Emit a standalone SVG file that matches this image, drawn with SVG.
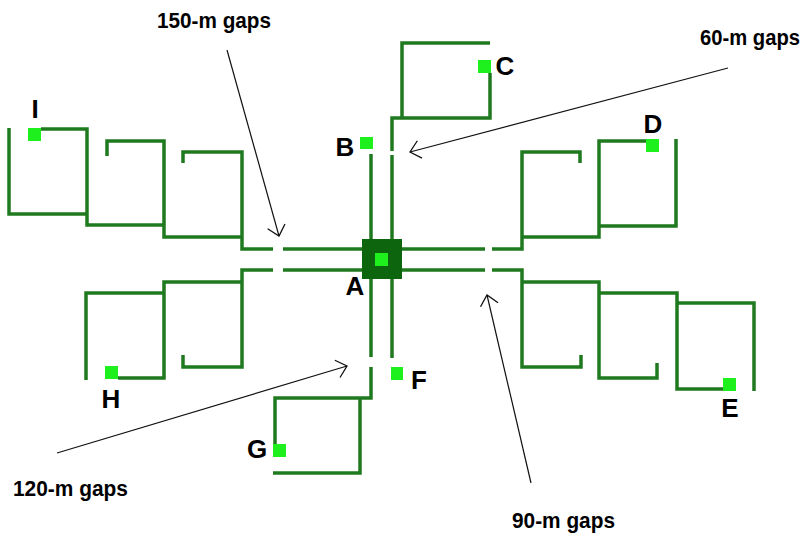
<svg xmlns="http://www.w3.org/2000/svg" width="809" height="539" viewBox="0 0 809 539">
<style>
.net{fill:none;stroke:#1f7a1f;stroke-width:3.5;stroke-linejoin:miter;stroke-linecap:butt}
.pt{fill:#1ef01e}
.lbl{font-family:"Liberation Sans",Arial,sans-serif;font-size:26px;font-weight:bold;fill:#000;text-anchor:middle}
.gap{font-family:"Liberation Sans",Arial,sans-serif;font-size:22px;font-weight:bold;fill:#000}
.arr{fill:none;stroke:#111;stroke-width:1.2}
</style>
<defs>
<marker id="ah" markerUnits="userSpaceOnUse" markerWidth="14" markerHeight="20" viewBox="0 0 12 20" refX="11" refY="10" orient="auto">
<path d="M1,1 L11,10 L1,19" fill="none" stroke="#111" stroke-width="1.3"/>
</marker>
</defs>
<rect width="809" height="539" fill="#fff"/>
<g id="network">
<path class="net" d="M371,239 V154"/>
<path class="net" d="M392,239 V155 M392,151 V118 H490 V73 M402,118 V43 H490"/>
<path class="net" d="M362,249 H283 M273,249 H242 V152 H183 V163"/>
<path class="net" d="M242,237 H164 V141 H107 V156"/>
<path class="net" d="M164,225 H87 V129 H41 M87,214 H9 V128"/>
<path class="net" d="M362,270 H283 M273,270 H242 V367 H183 V355"/>
<path class="net" d="M242,282 H164 V378 H118"/>
<path class="net" d="M164,293 H86 V380"/>
<path class="net" d="M371,279 V357 M371,367 V398 H275 V444 M360,398 V473 H273"/>
<path class="net" d="M392,279 V358"/>
<path class="net" d="M402,249 H485 M492,249 H522 V152 H580 V163"/>
<path class="net" d="M522,237 H599 V141 H646"/>
<path class="net" d="M599,226 H676 V139"/>
<path class="net" d="M402,270 H485 M492,270 H522 V367 H581 V355"/>
<path class="net" d="M522,282 H599 V378 H657 V363"/>
<path class="net" d="M599,293 H677 V389 H723"/>
<path class="net" d="M677,303 H754 V391"/>
</g>
<g id="A"><rect x="362" y="239" width="40" height="40" fill="#0d660d"/><rect class="pt" x="375" y="253" width="13" height="13"/><text class="lbl" x="355" y="295">A</text></g>
<g id="B"><rect class="pt" x="360" y="137" width="13" height="12"/><text class="lbl" x="345" y="156">B</text></g>
<g id="C"><rect class="pt" x="478" y="60" width="13" height="13"/><text class="lbl" x="505" y="75">C</text></g>
<g id="D"><rect class="pt" x="646" y="139" width="13" height="13"/><text class="lbl" x="653" y="133">D</text></g>
<g id="E"><rect class="pt" x="723" y="378" width="13" height="13"/><text class="lbl" x="730" y="417">E</text></g>
<g id="F"><rect class="pt" x="391" y="367" width="12" height="13"/><text class="lbl" x="419" y="389">F</text></g>
<g id="G"><rect class="pt" x="273" y="444" width="13" height="13"/><text class="lbl" x="257" y="458">G</text></g>
<g id="H"><rect class="pt" x="105" y="366" width="13" height="13"/><text class="lbl" x="111" y="408">H</text></g>
<g id="I"><rect class="pt" x="28" y="128" width="13" height="13"/><text class="lbl" x="35" y="118">I</text></g>
<g id="connectors">
<line class="arr" x1="227" y1="50" x2="279" y2="236" marker-end="url(#ah)"/>
<line class="arr" x1="728" y1="68" x2="410" y2="152" marker-end="url(#ah)"/>
<line class="arr" x1="531" y1="483" x2="487" y2="295" marker-end="url(#ah)"/>
<line class="arr" x1="57" y1="453" x2="347" y2="366" marker-end="url(#ah)"/>
</g>
<g id="gap150"><text class="gap" x="157" y="28" textLength="114" lengthAdjust="spacingAndGlyphs">150-m gaps</text></g>
<g id="gap60"><text class="gap" x="700" y="45" textLength="100" lengthAdjust="spacingAndGlyphs">60-m gaps</text></g>
<g id="gap90"><text class="gap" x="512" y="528" textLength="103" lengthAdjust="spacingAndGlyphs">90-m gaps</text></g>
<g id="gap120"><text class="gap" x="13" y="496" textLength="115" lengthAdjust="spacingAndGlyphs">120-m gaps</text></g>
</svg>
